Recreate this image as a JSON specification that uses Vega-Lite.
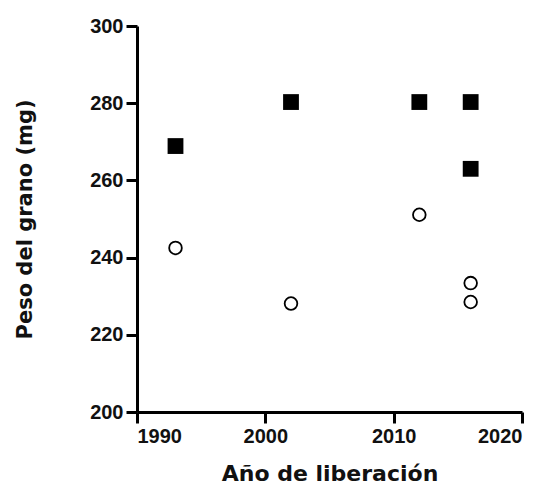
{
  "$schema": "https://vega.github.io/schema/vega-lite/v6.json",
  "autosize": {"type": "none"},
  "padding": {"left": 137, "top": 26, "right": 24, "bottom": 77},
  "width": 385,
  "height": 386,
  "background": "white",
  "data": {
    "values": [
      {"anio": 1993, "peso": 268.9, "grupo": "A"},
      {"anio": 2002, "peso": 280.3, "grupo": "A"},
      {"anio": 2012, "peso": 280.3, "grupo": "A"},
      {"anio": 2016, "peso": 280.3, "grupo": "A"},
      {"anio": 2016, "peso": 263.0, "grupo": "A"},
      {"anio": 1993, "peso": 242.5, "grupo": "B"},
      {"anio": 2002, "peso": 228.1, "grupo": "B"},
      {"anio": 2012, "peso": 251.1, "grupo": "B"},
      {"anio": 2016, "peso": 233.4, "grupo": "B"},
      {"anio": 2016, "peso": 228.5, "grupo": "B"}
    ]
  },
  "config": {
    "view": {"stroke": null},
    "font": "Liberation Sans",
    "axis": {
      "domainColor": "black",
      "domainWidth": 3,
      "tickColor": "black",
      "tickWidth": 3,
      "tickSize": 11,
      "grid": false,
      "labelFont": "Liberation Sans",
      "labelFontWeight": "bold",
      "labelFontSize": 20,
      "labelColor": "#111",
      "titleFont": "DejaVu Sans",
      "titleFontWeight": "bold",
      "titleColor": "#111"
    }
  },
  "layer": [
    {
      "transform": [{"filter": "datum.grupo === 'A'"}],
      "mark": {"type": "square", "filled": true, "color": "black", "size": 250, "opacity": 1},
      "encoding": {
        "x": {"field": "anio", "type": "quantitative", "scale": {"domain": [1990, 2020], "nice": false, "zero": false},
          "axis": {"values": [1990, 2000, 2010, 2020], "format": "d", "title": "Año de liberación", "titleFontSize": 22, "labelPadding": 3, "titlePadding": 17}},
        "y": {"field": "peso", "type": "quantitative", "scale": {"domain": [200, 300], "nice": false, "zero": false},
          "axis": {"values": [200, 220, 240, 260, 280, 300], "title": "Peso del grano (mg)", "titleFontSize": 21, "labelPadding": 3, "titlePadding": 54}}
      }
    },
    {
      "transform": [{"filter": "datum.grupo === 'B'"}],
      "mark": {"type": "point", "shape": "circle", "filled": false, "color": "black", "strokeWidth": 1.8, "size": 160, "opacity": 1},
      "encoding": {
        "x": {"field": "anio", "type": "quantitative"},
        "y": {"field": "peso", "type": "quantitative"}
      }
    }
  ]
}
